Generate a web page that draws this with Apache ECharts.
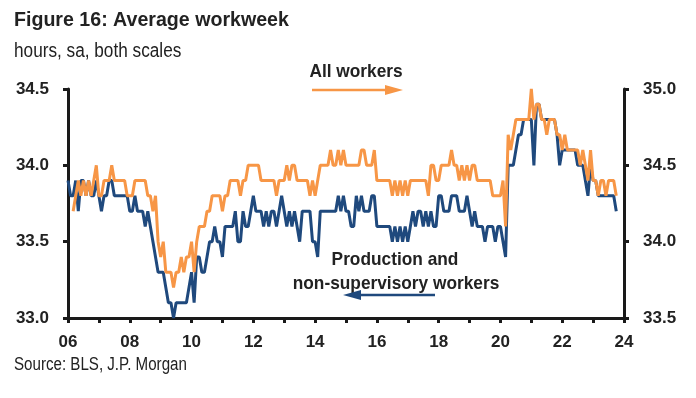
<!DOCTYPE html>
<html>
<head>
<meta charset="utf-8">
<script src="https://cdn.jsdelivr.net/npm/echarts@6/dist/echarts.min.js"></script>
<style>
  html, body { margin: 0; padding: 0; background: #fff; }
  #chart { width: 696px; height: 398px; }
</style>
</head>
<body>
<div id="chart"></div>
<script>
// monthly, Jan 2006 .. Oct 2023
const startYear = 2006;

// production and non-supervisory workers, hours (left scale)
const prodHours = [
  33.9, 33.8, 33.8, 33.9, 33.7, 33.9, 33.9, 33.8, 33.9, 33.8, 33.8, 33.9, // 2006
  33.8, 33.7, 33.8, 33.8, 33.9, 33.9, 33.8, 33.8, 33.8, 33.8, 33.8, 33.8, // 2007
  33.7, 33.7, 33.8, 33.7, 33.7, 33.7, 33.6, 33.7, 33.6, 33.5, 33.4, 33.3, // 2008
  33.3, 33.3, 33.2, 33.1, 33.1, 33.0, 33.1, 33.1, 33.1, 33.1, 33.1, 33.2, // 2009
  33.3, 33.1, 33.4, 33.4, 33.3, 33.3, 33.4, 33.5, 33.5, 33.6, 33.5, 33.5, // 2010
  33.4, 33.6, 33.6, 33.6, 33.6, 33.7, 33.5, 33.5, 33.7, 33.6, 33.6, 33.7, // 2011
  33.8, 33.7, 33.7, 33.7, 33.6, 33.7, 33.6, 33.7, 33.7, 33.6, 33.7, 33.8, // 2012
  33.7, 33.6, 33.7, 33.6, 33.7, 33.6, 33.5, 33.7, 33.7, 33.7, 33.7, 33.5, // 2013
  33.5, 33.4, 33.7, 33.7, 33.7, 33.7, 33.7, 33.7, 33.7, 33.8, 33.7, 33.8, // 2014
  33.7, 33.7, 33.6, 33.6, 33.8, 33.7, 33.8, 33.7, 33.7, 33.7, 33.8, 33.8, // 2015
  33.6, 33.6, 33.6, 33.6, 33.6, 33.6, 33.5, 33.6, 33.5, 33.6, 33.5, 33.6, // 2016
  33.5, 33.6, 33.7, 33.6, 33.7, 33.7, 33.6, 33.7, 33.6, 33.7, 33.6, 33.6, // 2017
  33.8, 33.8, 33.7, 33.7, 33.7, 33.8, 33.8, 33.8, 33.7, 33.7, 33.7, 33.8, // 2018
  33.7, 33.6, 33.7, 33.6, 33.6, 33.6, 33.5, 33.6, 33.6, 33.6, 33.5, 33.6, // 2019
  33.6, 33.5, 33.4, 34.0, 34.0, 34.0, 34.1, 34.2, 34.2, 34.3, 34.3, 34.3, // 2020
  34.3, 34.0, 34.4, 34.4, 34.3, 34.3, 34.3, 34.3, 34.3, 34.3, 34.2, 34.0, // 2021
  34.1, 34.1, 34.1, 34.1, 34.1, 34.1, 34.0, 34.0, 34.0, 33.9, 33.8, 34.0, // 2022
  33.9, 33.9, 33.8, 33.8, 33.8, 33.8, 33.8, 33.8, 33.8, 33.7              // 2023
];

// all workers, hours (right scale), series starts Mar 2006
const allHours = [
  null, null, 34.2, 34.3, 34.4, 34.3, 34.4, 34.3, 34.4, 34.3, 34.4, 34.5, // 2006
  34.3, 34.3, 34.4, 34.4, 34.4, 34.5, 34.4, 34.4, 34.4, 34.4, 34.4, 34.3, // 2007
  34.3, 34.3, 34.4, 34.4, 34.4, 34.4, 34.4, 34.3, 34.3, 34.2, 34.3, 34.0, // 2008
  33.9, 34.0, 33.8, 33.8, 33.8, 33.7, 33.8, 33.8, 33.9, 33.8, 33.9, 33.9, // 2009
  34.0, 33.8, 34.0, 34.1, 34.1, 34.1, 34.2, 34.2, 34.3, 34.3, 34.3, 34.3, // 2010
  34.2, 34.3, 34.3, 34.4, 34.4, 34.4, 34.4, 34.3, 34.4, 34.4, 34.5, 34.5, // 2011
  34.5, 34.5, 34.5, 34.4, 34.4, 34.4, 34.4, 34.4, 34.4, 34.3, 34.4, 34.4, // 2012
  34.4, 34.5, 34.4, 34.5, 34.5, 34.4, 34.4, 34.4, 34.4, 34.4, 34.3, 34.4, // 2013
  34.3, 34.4, 34.5, 34.5, 34.5, 34.5, 34.6, 34.5, 34.5, 34.6, 34.5, 34.6, // 2014
  34.5, 34.5, 34.5, 34.5, 34.5, 34.5, 34.6, 34.6, 34.5, 34.5, 34.5, 34.6, // 2015
  34.4, 34.4, 34.4, 34.4, 34.4, 34.4, 34.3, 34.4, 34.3, 34.4, 34.3, 34.4, // 2016
  34.3, 34.4, 34.4, 34.4, 34.4, 34.4, 34.4, 34.4, 34.3, 34.5, 34.5, 34.4, // 2017
  34.4, 34.5, 34.5, 34.5, 34.5, 34.6, 34.5, 34.5, 34.4, 34.5, 34.4, 34.5, // 2018
  34.4, 34.5, 34.5, 34.4, 34.4, 34.4, 34.4, 34.4, 34.4, 34.3, 34.3, 34.3, // 2019
  34.3, 34.4, 34.1, 34.7, 34.6, 34.7, 34.8, 34.8, 34.8, 34.8, 34.8, 34.8, // 2020
  35.0, 34.8, 34.9, 34.9, 34.8, 34.8, 34.7, 34.8, 34.8, 34.8, 34.7, 34.7, // 2021
  34.6, 34.7, 34.6, 34.6, 34.6, 34.6, 34.6, 34.5, 34.6, 34.5, 34.4, 34.6, // 2022
  34.4, 34.4, 34.3, 34.4, 34.4, 34.3, 34.4, 34.4, 34.4, 34.3              // 2023
];

const ORANGE = "#F79646";
const BLUE = "#1F497D";
const AXIS = "#1a1a1a";
const SANS = "'Liberation Sans', Arial, sans-serif";

const toPoints = arr => arr.map((v, i) => [startYear + i / 12, v]);

const chart = echarts.init(document.getElementById("chart"));

const axisCommon = {
  axisLine: { show: true, lineStyle: { color: AXIS, width: 3 } },
  axisTick: { show: true, inside: false, length: 5, lineStyle: { color: AXIS, width: 3 } },
  splitLine: { show: false },
  axisLabel: {
    color: "#222",
    fontFamily: SANS,
    fontWeight: "bold",
    fontSize: 17
  }
};

// narrow-looking text: regular font squeezed horizontally
function label(x, y, text, font, sx, align) {
  return {
    type: "text",
    x: x,
    y: y,
    scaleX: sx,
    style: { text: text, font: font, fill: "#222", align: align || "left", verticalAlign: "middle" }
  };
}

// small arrow: shaft + head
function arrow(x1, x2, y, color) {
  const dir = x2 > x1 ? 1 : -1;
  const headLen = 18, headW = 5;
  return {
    type: "group",
    children: [
      {
        type: "line",
        shape: { x1: x1, y1: y, x2: x2 - dir * headLen, y2: y },
        style: { stroke: color, lineWidth: 2.5 }
      },
      {
        type: "polygon",
        shape: { points: [[x2, y], [x2 - dir * headLen, y - headW], [x2 - dir * headLen, y + headW]] },
        style: { fill: color }
      }
    ]
  };
}

chart.setOption({
  animation: false,
  grid: { left: 68, right: 72, top: 89, bottom: 80 },
  xAxis: {
    type: "value",
    min: 2006,
    max: 2024,
    interval: 1,
    ...axisCommon,
    axisLabel: {
      ...axisCommon.axisLabel,
      margin: 16,
      formatter: v => (Math.round(v) % 2 === 0 ? String(Math.round(v)).slice(2) : "")
    }
  },
  yAxis: [
    {
      type: "value",
      position: "left",
      min: 33,
      max: 34.5,
      interval: 0.5,
      ...axisCommon,
      axisLabel: { ...axisCommon.axisLabel, margin: 19, formatter: v => v.toFixed(1) }
    },
    {
      type: "value",
      position: "right",
      min: 33.5,
      max: 35,
      interval: 0.5,
      ...axisCommon,
      axisLabel: { ...axisCommon.axisLabel, margin: 19, formatter: v => v.toFixed(1) }
    }
  ],
  series: [
    {
      name: "Production and non-supervisory workers",
      type: "line",
      yAxisIndex: 0,
      data: toPoints(prodHours),
      showSymbol: false,
      lineStyle: { color: BLUE, width: 3 },
      z: 2
    },
    {
      name: "All workers",
      type: "line",
      yAxisIndex: 1,
      data: toPoints(allHours),
      showSymbol: false,
      lineStyle: { color: ORANGE, width: 3 },
      z: 3
    }
  ],
  graphic: [
    label(14, 20, "Figure 16: Average workweek", "bold 20px " + SANS, 0.98),
    label(14, 51, "hours, sa, both scales", "20px " + SANS, 0.86),
    label(14, 365, "Source: BLS, J.P. Morgan", "18px " + SANS, 0.84),
    label(356, 72, "All workers", "bold 19px " + SANS, 0.91, "center"),
    label(395, 260, "Production and", "bold 19px " + SANS, 0.91, "center"),
    label(396, 284, "non-supervisory workers", "bold 19px " + SANS, 0.91, "center"),
    arrow(312, 403, 90, ORANGE),
    arrow(435, 343, 295, BLUE)
  ]
});
</script>
</body>
</html>
